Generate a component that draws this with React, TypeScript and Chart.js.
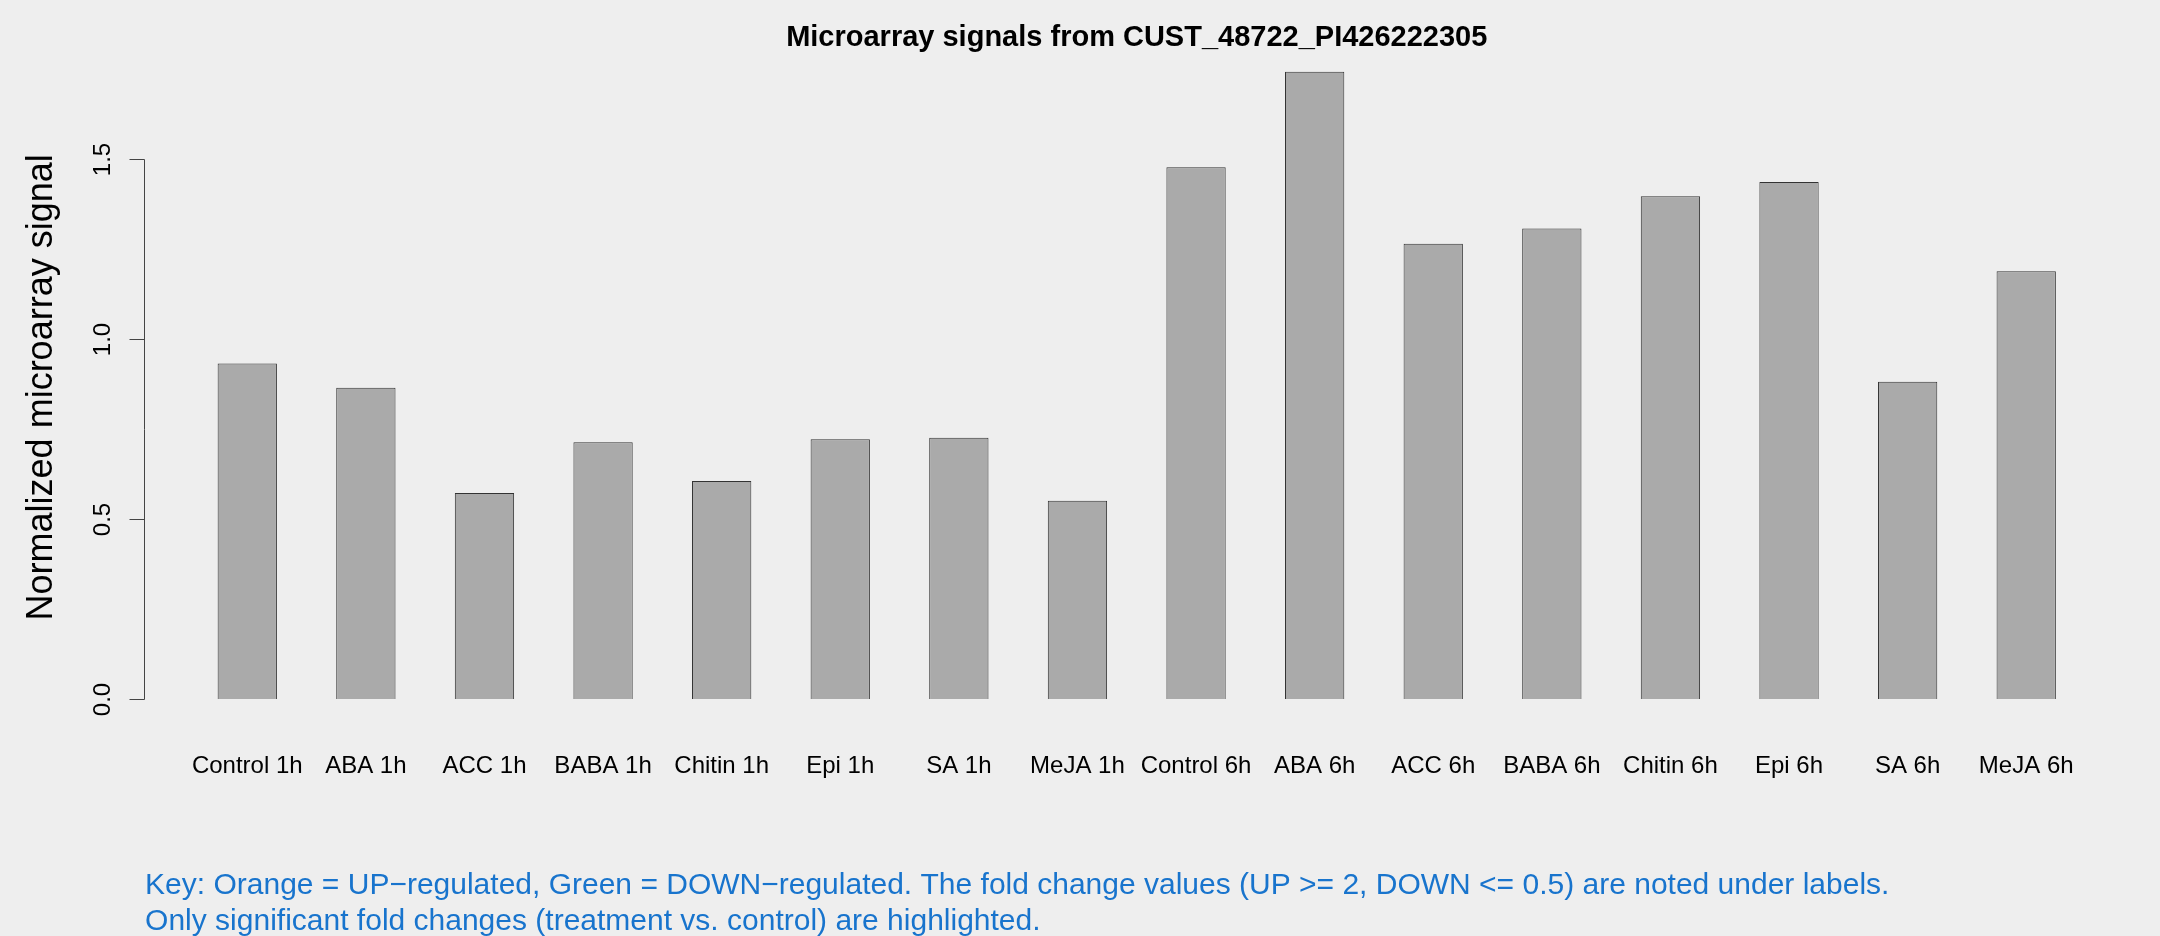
import React, { useEffect, useRef } from "react";
import { Chart, registerables } from "chart.js";

Chart.register(...registerables);

const categories = [
  "Control 1h", "ABA 1h", "ACC 1h", "BABA 1h", "Chitin 1h", "Epi 1h", "SA 1h", "MeJA 1h",
  "Control 6h", "ABA 6h", "ACC 6h", "BABA 6h", "Chitin 6h", "Epi 6h", "SA 6h", "MeJA 6h",
];
const signalValues = [
  0.933, 0.865, 0.573, 0.714, 0.606, 0.722, 0.726, 0.551,
  1.478, 1.744, 1.266, 1.308, 1.398, 1.437, 0.882, 1.189,
];
const yTickValues = [0, 0.5, 1.0, 1.5];
const yTickLabels = ["0.0", "0.5", "1.0", "1.5"];
const titleText = "Microarray signals from CUST_48722_PI426222305";
const yAxisTitle = "Normalized microarray signal";
const keyLines = [
  "Key: Orange = UP\u2212regulated, Green = DOWN\u2212regulated. The fold change values (UP >= 2, DOWN <= 0.5) are noted under labels.",
  "Only significant fold changes (treatment vs. control) are highlighted.",
];

const FONT = "'Liberation Sans', Arial, Helvetica, sans-serif";
const W = 2160;
const H = 936;

// bar i occupies [1+2i, 2+2i] in R barplot units (width 1, space 1)
const barCenters = categories.map((_, i) => 1.5 + 2 * i);
const xMin = 1 - 0.04 * 31;
const xMax = 32 + 0.04 * 31;
const yMin = -0.04 * 1.744;
const yMax = 1.744 * 1.04;

const decorPlugin = {
  id: "decor",
  beforeDraw(chart: any) {
    const { ctx } = chart;
    ctx.save();
    ctx.fillStyle = "#EEEEEE";
    ctx.fillRect(0, 0, chart.width, chart.height);
    ctx.restore();
  },
  afterDraw(chart: any) {
    const { ctx, chartArea } = chart;
    const y = chart.scales.y;
    const ax = Math.round(chartArea.left) + 0.5;
    ctx.save();
    // y axis line
    ctx.strokeStyle = "#444444";
    ctx.lineWidth = 1;
    ctx.beginPath();
    ctx.moveTo(ax, Math.round(y.getPixelForValue(yTickValues[0])) + 0.5);
    ctx.lineTo(ax, Math.round(y.getPixelForValue(yTickValues[yTickValues.length - 1])) + 0.5);
    ctx.stroke();
    // ticks and labels
    ctx.fillStyle = "#000000";
    ctx.font = `24px ${FONT}`;
    yTickValues.forEach((v, i) => {
      const py = Math.round(y.getPixelForValue(v)) + 0.5;
      ctx.beginPath();
      ctx.moveTo(ax, py);
      ctx.lineTo(ax - 15, py);
      ctx.stroke();
      ctx.save();
      ctx.translate(ax - 35, py);
      ctx.rotate(-Math.PI / 2);
      ctx.textAlign = "center";
      ctx.textBaseline = "alphabetic";
      ctx.fillText(yTickLabels[i], 0, 0);
      ctx.restore();
    });
    // y axis title
    ctx.save();
    ctx.font = `36px ${FONT}`;
    ctx.translate(52, (chartArea.top + chartArea.bottom) / 2 + 2);
    ctx.rotate(-Math.PI / 2);
    ctx.textAlign = "center";
    ctx.textBaseline = "alphabetic";
    ctx.fillText(yAxisTitle, 0, 0);
    ctx.restore();
    // title
    ctx.font = `bold 29px ${FONT}`;
    ctx.textAlign = "center";
    ctx.textBaseline = "alphabetic";
    ctx.fillText(titleText, (chartArea.left + chartArea.right) / 2, 46);
    // key
    ctx.font = `30px ${FONT}`;
    ctx.fillStyle = "#1874CD";
    ctx.textAlign = "left";
    ctx.fillText(keyLines[0], chartArea.left + 1, 894);
    ctx.fillText(keyLines[1], chartArea.left + 1, 930);
    ctx.restore();
  },
};

export default function App() {
  const canvasRef = useRef<HTMLCanvasElement | null>(null);

  useEffect(() => {
    document.body.style.margin = "0";
    document.body.style.background = "#EEEEEE";
    const canvas = canvasRef.current;
    if (!canvas) return;
    const chart = new Chart(canvas, {
      type: "bar",
      data: {
        datasets: [
          {
            data: signalValues.map((v, i) => ({ x: barCenters[i], y: v })),
            backgroundColor: "#AAAAAA",
            borderColor: "#333333",
            borderWidth: 1,
            categoryPercentage: 0.5,
            barPercentage: 1,
          },
        ],
      },
      options: {
        responsive: false,
        animation: false,
        devicePixelRatio: 1,
        layout: { padding: { left: 144.1, right: 30.6, top: 46.6, bottom: 131.9 } },
        plugins: { legend: { display: false }, title: { display: false }, tooltip: { enabled: false } },
        scales: {
          x: {
            type: "linear",
            min: xMin,
            max: xMax,
            offset: false,
            grid: { display: false, drawTicks: false, offset: false },
            border: { display: false },
            afterBuildTicks: (axis: any) => {
              axis.ticks = barCenters.map((v) => ({ value: v }));
            },
            afterFit: (axis: any) => {
              axis.height = 80;
            },
            ticks: {
              autoSkip: false,
              maxRotation: 0,
              minRotation: 0,
              padding: 28,
              color: "#000000",
              font: { family: FONT, size: 24 },
              callback: (value: any) => categories[Math.round((Number(value) - 1.5) / 2)],
            },
          },
          y: {
            type: "linear",
            min: yMin,
            max: yMax,
            display: false,
          },
        },
      },
      plugins: [decorPlugin],
    } as any);
    return () => chart.destroy();
  }, []);

  return (
    <div style={{ width: W, height: H, background: "#EEEEEE" }}>
      <canvas ref={canvasRef} width={W} height={H} style={{ display: "block" }} />
    </div>
  );
}
